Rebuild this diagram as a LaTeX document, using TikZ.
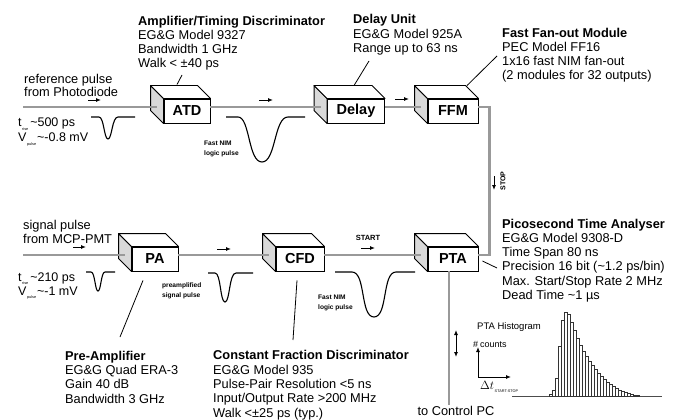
\documentclass[tikz,border=0pt]{standalone}
\usepackage{fontspec}
\setmainfont{Liberation Sans}
\usepackage{tikz}
\usetikzlibrary{arrows.meta,calc}

\newcommand\pulsesub[1]{\raisebox{-3.2pt}{\kern0.5pt\fontsize{3.8}{4}\selectfont#1}}

\begin{document}
\begin{tikzpicture}[
  x=1pt,y=-1pt,>={Latex[length=5pt,width=4pt]},
  signal/.style={draw=black!40,line width=2.8pt},
  module/.style={draw,line width=0.9pt,fill=white,minimum height=24pt,
    inner sep=0pt,font=\fontsize{14.5}{16}\selectfont\bfseries},
  face/.style={draw,line width=0.9pt,line join=round},
  leader/.style={line width=0.8pt},
  pulse/.style={line width=1.1pt},
  flowdir/.style={->,line width=0.9pt},
  infotext/.style={anchor=base west,align=left,inner sep=0pt,
    font=\fontsize{12.8}{14.3}\selectfont},
  pulsetext/.style={anchor=base west,inner sep=0pt,
    font=\fontsize{12.5}{13}\selectfont},
  smalltext/.style={anchor=base west,align=left,inner sep=0pt,
    font=\fontsize{6.6}{10}\selectfont\bfseries},
  bar/.style={draw=black!80,line width=0.4pt,fill=white}
]
  \useasboundingbox (0,0) rectangle (673,420);

  % modules (front faces)
  \node[module,minimum width=46pt] (atd) at (187,111) {ATD};
  \node[module,minimum width=57pt] (delay) at (356,111) {Delay};
  \node[module,minimum width=50pt] (ffm) at (453,111) {FFM};
  \node[module,minimum width=46pt] (pa) at (155,259) {PA};
  \node[module,minimum width=48pt] (cfd) at (300,259) {CFD};
  \node[module,minimum width=50pt] (pta) at (453,259) {PTA};

  \foreach \m in {atd,delay,ffm,pa,cfd,pta}{
    \draw[face,fill=black!15] (\m.north west) -- ++(-13,-13)
      -- ($(\m.south west)+(-13,-13)$) -- (\m.south west) -- cycle;
    \draw[face,fill=white] (\m.north west) -- ++(-13,-13)
      -- ($(\m.north east)+(-13,-13)$) -- (\m.north east) -- cycle;
  }

  % texts (placed at the baseline of their last line)
  \node[infotext] (atd-info) at (138,68)
    {\textbf{Amplifier/Timing Discriminator}\\EG\&G Model 9327\\
     Bandwidth 1 GHz\\Walk < ±40 ps};
  \node[infotext] (delay-info) at (353,52.6)
    {\textbf{Delay Unit}\\EG\&G Model 925A\\Range up to 63 ns};
  \node[infotext] (ffm-info) at (502,80)
    {\textbf{Fast Fan-out Module}\\PEC Model FF16\\1x16 fast NIM fan-out\\
     (2 modules for 32 outputs)};
  \node[infotext] (pta-info) at (502,299.5)
    {\textbf{Picosecond Time Analyser}\\EG\&G Model 9308-D\\Time Span 80 ns\\
     Precision 16 bit (\textasciitilde1.2 ps/bin)\\Max. Start/Stop Rate 2 MHz\\
     Dead Time \textasciitilde1 µs};
  \node[infotext] (pa-info) at (65,403)
    {\textbf{Pre-Amplifier}\\EG\&G Quad ERA-3\\Gain 40 dB\\Bandwidth 3 GHz};
  \node[infotext] (cfd-info) at (213,417)
    {\textbf{Constant Fraction Discriminator}\\EG\&G Model 935\\
     Pulse-Pair Resolution <5 ns\\Input/Output Rate >200 MHz\\
     Walk <±25 ps (typ.)};
  \node[infotext,font=\fontsize{12.8}{13}\selectfont] (ref-text) at (24,96.5)
    {reference pulse\\from Photodiode};
  \node[infotext,font=\fontsize{12.8}{14}\selectfont] (sig-text) at (23,243.5)
    {signal pulse\\from MCP-PMT};
  \node[pulsetext] (ref-rise) at (18,127) {t\pulsesub{rise}\hspace{2pt}\textasciitilde500 ps};
  \node[pulsetext] (ref-volt) at (18,142) {V\pulsesub{pulse}\hspace{1pt}\textasciitilde-0.8 mV};
  \node[pulsetext] (sig-rise) at (18,281) {t\pulsesub{rise}\hspace{2pt}\textasciitilde210 ps};
  \node[pulsetext] (sig-volt) at (18,295) {V\pulsesub{pulse}\hspace{1pt}\textasciitilde-1 mV};
  \node[smalltext] (atd-out) at (204,155.5) {Fast NIM\\logic pulse};
  \node[smalltext] (pa-out) at (162,297.5) {preamplified\\signal pulse};
  \node[smalltext] (cfd-out) at (318,309.5) {Fast NIM\\logic pulse};
  \node[smalltext,anchor=center,font=\fontsize{7.5}{9}\selectfont\bfseries]
    (start) at (368,238) {START};
  \node[smalltext,anchor=center,rotate=90,font=\fontsize{7}{9}\selectfont\bfseries]
    (stop) at (503,181) {STOP};
  \node[inner sep=1pt,font=\fontsize{12.8}{14}\selectfont] (topc) at (456,411)
    {to Control PC};

  % signal lines
  \coordinate (ref-in) at (23,107);
  \coordinate (sig-in) at (23,255);
  \draw[signal] (ref-in) -- ([xshift=-6.5pt,yshift=4pt]atd.west);
  \draw[signal] ([yshift=4pt]atd.east) -- ([xshift=-6.5pt,yshift=4pt]delay.west);
  \draw[signal] ([yshift=4pt]delay.east) -- ([xshift=-6.5pt,yshift=4pt]ffm.west);
  \draw[signal] ([yshift=4pt]ffm.east) -- ++(11,0) |- ([yshift=4pt]pta.east);
  \draw[signal] (sig-in) -- ([xshift=-6.5pt,yshift=4pt]pa.west);
  \draw[signal] ([yshift=4pt]pa.east) -- ([xshift=-6.5pt,yshift=4pt]cfd.west);
  \draw[signal] ([yshift=4pt]cfd.east) -- ([xshift=-6.5pt,yshift=4pt]pta.west);
  \draw[signal] ([xshift=-4pt]pta.south) -- ([xshift=-7pt]topc.north);

  % direction arrows
  \draw[flowdir] (88,100) -- (101,100);
  \draw[flowdir] (259,100) -- (273,100);
  \draw[flowdir] (395,99) -- (409,99);
  \draw[flowdir] (73,247) -- (86,247);
  \draw[flowdir] (217,249) -- (231,249);
  \draw[flowdir] (361,248) -- (375,248);
  \draw[flowdir] (494,176) -- (494,190);
  \draw[<->,line width=0.9pt] (456,330) -- (456,357);

  % leaders
  \coordinate (atd-tag) at (182,75);
  \coordinate (delay-tag) at (369,61);
  \coordinate (ffm-tag) at (497,56);
  \coordinate (pta-tag) at (497,268);
  \coordinate (pa-tag) at (120,337);
  \coordinate (cfd-tag) at (293,340);
  \draw[leader] (atd-tag) -- ([xshift=-10pt,yshift=14pt]atd.north);
  \draw[leader] (delay-tag) -- ([xshift=-2pt,yshift=13pt]delay.north);
  \draw[leader] (ffm-tag) -- ([xshift=14pt,yshift=13pt]ffm.north);
  \draw[leader] ([xshift=4pt,yshift=-2pt]pta.east) -- (pta-tag);
  \draw[leader] ([xshift=-12pt,yshift=-9pt]pa.south) -- (pa-tag);
  \draw[leader] ([xshift=-3pt,yshift=-9pt]cfd.south) -- (cfd-tag);

  % pulses
  \draw[pulse] (91,117) -- (99,117) .. controls (104,117) and (104,139) .. (108,139)
    .. controls (112,139) and (112,117) .. (118,117) -- (135,117);
  \draw[pulse] (226,117) -- (238,117) .. controls (250,117) and (248,162) .. (262,162)
    .. controls (276,162) and (274,117) .. (288,117) -- (305,117);
  \draw[pulse] (86,272) -- (91,272) .. controls (95,272) and (95,291) .. (98,291)
    .. controls (101,291) and (101,272) .. (105,272) -- (115,272);
  \draw[pulse] (208,273) -- (215,273) .. controls (221,273) and (220,302) .. (225,302)
    .. controls (230,302) and (229,273) .. (236,273) -- (253,273);
  \draw[pulse] (335,272) -- (352,272) .. controls (366,272) and (360,317) .. (374,317)
    .. controls (388,317) and (382,272) .. (396,272) -- (415,272);

  % histogram
  \node[pulsetext,font=\fontsize{9.5}{10}\selectfont] (hist-title) at (477,329.5)
    {PTA Histogram};
  \node[pulsetext,font=\fontsize{9}{10}\selectfont] (hist-counts) at (473,347)
    {\#\hspace{2pt}counts};
  \node[pulsetext] (hist-dt) at (480,389) {$\Delta t$\pulsesub{START-STOP}};
  \coordinate (hist-origin) at (478,377);
  \draw[->,line width=0.9pt] (hist-origin) -- ++(0,-30);
  \draw[->,line width=0.9pt] (hist-origin) -- ++(33,0);
  \draw[line width=0.8pt,black!70] (512,396) -- (662,396);
  \foreach \h [count=\i from 0] in {2,6,18,50,76,84,82,74,66,58,51,45,40,35,31,
      27,23,20,17,14,12,10,8,6,5,4,3,2,1,1}
    \draw[bar] ({549+3*\i},396) rectangle ++(3,-\h);
\end{tikzpicture}
\end{document}
